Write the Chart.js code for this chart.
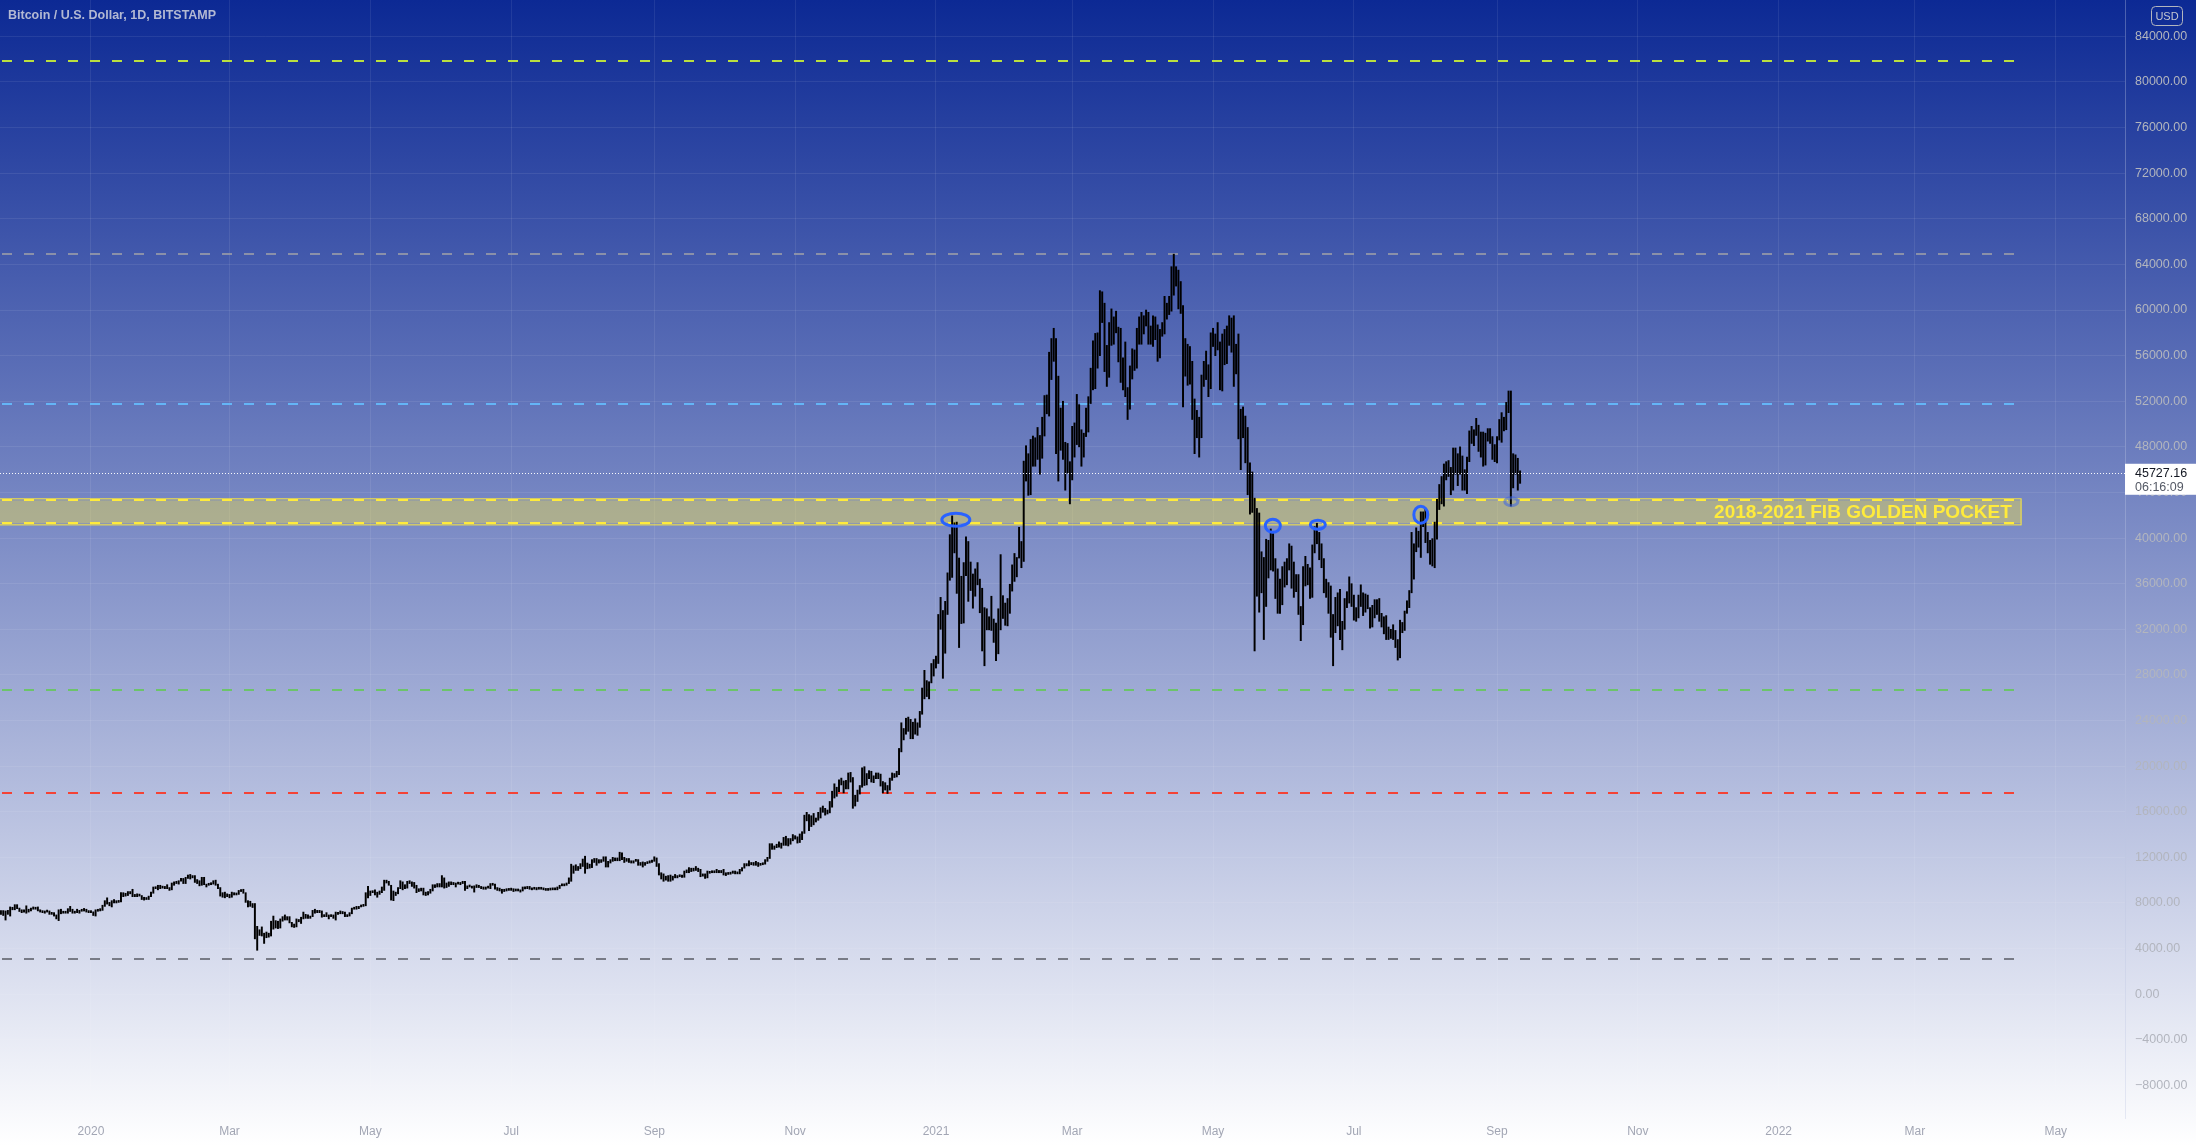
<!DOCTYPE html>
<html>
<head>
<meta charset="utf-8">
<title>Bitcoin / U.S. Dollar, 1D, BITSTAMP</title>
<script src="https://cdn.jsdelivr.net/npm/chart.js@4.4.1/dist/chart.umd.min.js"></script>
<style>
  html, body { margin: 0; padding: 0; overflow: hidden; }
  body { width: 2196px; height: 1146px; background: linear-gradient(180deg, #0c2994 0%, #ffffff 100%); }
  #wrap { position: relative; width: 2196px; height: 1146px; }
</style>
</head>
<body>
<div id="wrap"><canvas id="chart"></canvas></div>
<script>
// day index 0 = 2020-01-01, first bar = 2019-11-23
const firstDay = -39

// daily low / high, one line per month
const barLow = [
  7000,6900,6500,7000,6850,7400,7400,7500,
  7250,7150,7200,7100,7200,7300,7450,7450,7300,7200,7150,7100,7200,7000,7000,6850,6600,6450,7050,7100,7100,7100,7250,7100,7100,7150,7100,7270,7290,7200,7150,
  7150,6900,6850,7270,7300,7350,7700,7900,7750,7650,8000,8000,8050,8100,8550,8600,8650,8800,8550,8550,8550,8600,8300,8250,8300,8300,8550,8850,9250,9150,9250,
  9300,9250,9250,9100,9150,9550,9700,9650,9900,9700,9700,10150,10100,10200,9800,9700,9500,9550,9600,9400,9550,9600,9650,9550,9250,8600,8500,8450,8550,
  8450,8500,8700,8700,8750,9000,8850,8050,7650,7700,7600,4850,3850,5150,5100,4450,4950,5000,5100,5700,5800,5750,5800,6400,6500,6500,6250,5900,5850,5900,6350,
  6200,6600,6650,6650,6650,6800,7100,7150,7150,6750,6800,6800,6600,6800,6650,6500,7000,7050,7050,6800,6800,6850,7050,7450,7450,7500,7650,7700,7750,8450,
  8650,8900,8700,8500,8750,8900,9100,9750,9550,8250,8200,8650,8800,9250,9150,9250,9300,9700,9450,9300,8900,9000,9050,8700,8650,8700,8850,9050,9350,9400,9400,
  9400,9300,9350,9450,9600,9600,9400,9650,9600,9700,9100,9250,9400,9300,8950,9350,9350,9250,9200,9200,9300,9250,9550,9200,9100,9050,8850,9000,9050,9100,
  9100,9000,9050,9050,8950,9050,9230,9250,9200,9150,9200,9150,9200,9200,9150,9100,9100,9130,9150,9150,9150,9270,9500,9500,9550,9700,9900,10600,10850,10850,11000,
  11200,10600,11000,11050,11100,11550,11300,11500,11550,11650,11150,11150,11500,11650,11700,11700,11700,11800,11550,11650,11550,11500,11500,11650,11300,11300,11150,11300,11450,11500,11550,
  11650,11200,10450,10100,9900,10000,9900,9900,10000,10200,10200,10300,10250,10250,10650,10650,10750,10800,10850,10750,10300,10350,10150,10200,10600,10650,10650,10650,10650,10650,
  10450,10400,10500,10520,10600,10550,10550,10550,10800,11050,11250,11250,11350,11300,11300,11200,11300,11350,11400,11650,11900,12700,12700,12850,12900,12800,13050,13050,13000,13150,13450,
  13600,13250,13300,13550,14100,15200,14350,14700,14850,15100,15250,15450,15950,15700,15800,15900,16400,17200,17350,17750,18350,17650,18000,18000,18600,16300,16500,16900,17550,18150,
  18300,18350,18900,18600,18550,18900,18900,18250,17650,17900,17600,17900,18750,19000,19050,19250,21250,22300,22800,23050,22400,22400,22800,22700,23400,24550,25900,26100,25900,27300,27900,
  28600,29000,32000,27700,29900,33300,36300,36550,38700,35150,30400,32500,32550,36700,34450,35400,33850,34900,35900,33450,30100,28800,31950,31950,31900,30850,29250,29850,31950,32950,32350,
  32300,33400,35350,36200,36600,38250,37400,37950,45000,43750,43800,46300,46300,46900,45600,47000,48950,50900,50700,53900,55500,47400,45000,47700,46900,44200,45700,43000,
  45100,47100,48200,48000,46300,47100,48900,49300,51800,53000,53100,54900,56000,58900,54600,53300,54100,56900,57000,58000,55450,53650,53000,52400,50400,51300,53950,54700,54900,57000,57000,
  57900,58600,57000,57000,56800,57400,55500,55800,57700,57900,59200,59600,59900,61300,62100,60100,59700,51500,54200,53400,53500,50400,47400,48800,47100,48800,53300,53900,52400,53100,
  56800,56000,56500,53000,52900,55200,55300,56900,56300,53300,54400,48700,46000,48800,46600,43800,42100,42250,30100,34900,33500,35200,31100,34000,36500,37200,37100,34700,33400,33400,34150,
  35700,35900,37200,35600,34800,35300,33300,31000,32400,35800,35900,34700,34800,38700,39500,38100,37400,35200,34800,33400,31300,28800,31700,32300,31100,30200,32000,33900,34300,34000,
  32800,32700,33000,34000,33200,33500,33800,32100,32200,33000,33300,32700,32200,31600,31100,31100,31200,31100,30400,29300,29500,31700,31900,33400,33900,35200,36400,38800,39200,38300,41000,
  39600,38700,37700,37550,37400,39900,42500,43000,42800,45100,45400,43800,44200,45600,44600,45600,44200,44200,43900,46700,48300,48100,49000,47600,47100,46300,46400,48500,48300,46900,46700,
  46600,48600,48400,49400,49500,51000,42800,44400,45600,44200,44800
]
const barHigh = [
  7330,7330,7300,7350,7650,7620,7850,7850,
  7550,7400,7400,7750,7450,7550,7650,7600,7650,7400,7300,7300,7350,7300,7150,7150,6950,7400,7450,7250,7200,7500,7700,7450,7280,7450,7350,7400,7520,7450,7330,
  7250,7220,7400,7400,7500,7800,8200,8450,8050,8200,8300,8200,8200,8900,8900,8850,9000,9000,9200,8750,8800,8750,8650,8500,8400,8600,8950,9400,9400,9550,9550,
  9450,9450,9600,9350,9750,9850,9900,9950,10150,10150,10250,10450,10500,10400,10400,10050,9950,10250,10250,9650,9700,9700,9950,10000,9650,9350,8900,8950,8800,
  8750,8950,8900,8850,9100,9150,9200,8900,8200,8150,7950,7950,5950,5650,5900,5350,5450,5350,6400,6850,6450,6400,6600,6800,6950,6800,6800,6300,6150,6600,6550,
  6750,7200,7000,6950,6850,7350,7450,7350,7350,7300,6950,7150,6950,6950,6950,7200,7150,7300,7250,7200,6950,7150,7550,7600,7700,7700,7800,7800,8900,9450,
  9050,9000,9150,8950,9050,9400,10000,10000,9900,9550,9050,8950,9350,9950,9850,9600,9900,9950,9850,9800,9550,9250,9300,9300,8950,9000,9200,9600,9600,9700,9700,
  10400,10200,9750,9850,9850,9800,9750,9800,9800,9900,9900,9500,9500,9450,9500,9600,9550,9450,9400,9400,9400,9700,9700,9650,9350,9300,9200,9200,9250,9200,
  9300,9250,9150,9200,9150,9400,9380,9450,9450,9300,9300,9350,9350,9300,9250,9250,9200,9200,9250,9200,9400,9550,9650,9650,9750,10200,11400,11250,11350,11200,11450,
  11850,12100,11500,11400,11800,11900,11900,11800,11800,12050,12050,11650,11800,12000,11950,11950,12450,12400,12000,11900,11900,11700,11700,11800,11800,11550,11600,11550,11600,11700,11750,
  12050,11950,11450,10650,10550,10350,10400,10450,10350,10500,10400,10450,10450,10800,10900,11100,11050,11050,11200,11050,10950,10550,10550,10800,10750,10800,10800,10950,10850,10850,
  10950,10650,10600,10700,10800,10800,10650,10950,11100,11450,11450,11700,11550,11550,11650,11550,11400,11500,11800,12000,13200,13200,13000,13150,13350,13250,13750,13850,13650,13650,14000,
  13900,13800,14050,14250,15700,15950,15750,15650,15850,15450,15950,16350,16500,16300,16150,16900,17800,18450,18150,18800,18950,18700,18750,19400,19450,19000,17450,17900,18300,19850,
  19950,19350,19600,19550,19150,19400,19400,19300,18650,18550,18300,18950,19400,19350,19550,21550,23800,23300,24200,24300,24100,23850,24150,23800,24800,26850,28400,27500,27400,29000,29350,
  29650,33300,34800,33650,34450,36950,40300,41950,41350,41400,38250,36650,37850,40100,39700,37900,36850,37300,37850,36400,35600,33900,33800,33100,34900,32900,32550,33800,38550,34950,34300,
  34700,35950,37650,38650,38300,40950,39700,46750,48100,47400,48650,48950,48800,49700,49000,50600,52500,52550,56300,57500,58400,57500,54200,51400,52000,48400,48300,46700,
  49800,50100,52600,51700,49500,49200,51400,52400,54900,57300,57950,58000,61700,61600,60600,56900,58900,60100,59400,59900,58500,58400,55800,57200,53200,55100,56600,56500,58400,59400,59800,
  59500,60000,59800,58600,59500,59400,58700,58300,58900,61200,60600,61200,63800,64900,63800,63500,62500,60400,57500,57000,56800,55500,52200,51200,50600,54300,55500,56400,55200,58000,
  58400,57900,58900,57200,57900,58300,58600,59500,59300,59500,57000,57900,51300,51500,50700,49700,46600,45800,43500,42600,42200,38800,38300,39900,39800,40800,40400,38200,37300,36400,37500,
  37900,38200,39500,39300,37900,36800,36800,34000,37500,38400,37700,37400,39400,41000,41300,40500,39500,38200,36400,36100,35800,33300,34800,35200,35500,32700,34700,35300,36600,36000,
  35000,33900,35000,35900,35200,35100,35000,33900,34100,34600,34600,34700,33400,33100,33200,32200,32000,32400,31900,31100,32800,32600,33600,34500,35400,40500,39500,40900,40600,42300,42300,
  42600,40500,39800,39950,41400,43400,44700,45400,46500,46700,46800,46200,47900,47900,47400,48000,47200,46000,47100,49400,49800,49500,50500,49900,49300,49300,49200,49600,49600,48900,48200,
  48900,50400,51000,50600,51900,52900,52900,47400,47300,47000,45900
]

// time axis labels (day index of each month start)
const monthTickDays = [0, 60, 121, 182, 244, 305, 366, 425, 486, 547, 609, 670, 731, 790, 851]
const monthTickLabels = ['2020', 'Mar', 'May', 'Jul', 'Sep', 'Nov', '2021', 'Mar', 'May', 'Jul', 'Sep', 'Nov', '2022', 'Mar', 'May']
const priceTicks = [-8000, -4000, 0, 4000, 8000, 12000, 16000, 20000, 24000, 28000, 32000, 36000, 40000, 44000,
  48000, 52000, 56000, 60000, 64000, 68000, 72000, 76000, 80000, 84000]

// drawn horizontal levels
const levelValues = [81800, 64950, 51730, 26700, 17600, 3100]
const levelColors = ['#b9df3f', 'rgba(150,154,168,0.85)', '#64b5f6', '#6cc46a', '#f44336', '#787b86']
const pocketTop = 43310
const pocketBottom = 41290
const pocketLabel = '2018-2021 FIB GOLDEN POCKET'
const levelEndDay = 833
const pocketEndDay = 836

// hand drawn marks (day, price)
const markDays = [374.6, 511.9, 531.4, 576, 615.2]
const markPrices = [41614, 41088, 41175, 42053, 43193]

const lastPrice = 45727.16
const lastCountdown = '06:16:09'
const title = 'Bitcoin / U.S. Dollar, 1D, BITSTAMP'

const FONT = "'Liberation Sans', Arial, sans-serif"
Chart.defaults.font.family = FONT

const bars = barLow.map((lo, i) => ({ x: firstDay + i, y: [lo, barHigh[i]] }))

const fmt = v => (v < 0 ? '\u2212' + Math.abs(v).toFixed(2) : v.toFixed(2))

const noPad = s => { s.paddingTop = 0; s.paddingBottom = 0; s.paddingLeft = 0; s.paddingRight = 0 }

const overlay = {
  id: 'overlay',
  beforeDatasetsDraw(chart) {
    const { ctx: c, scales: { x, y }, chartArea: a } = chart
    c.save()
    // golden pocket box
    const xr = x.getPixelForValue(pocketEndDay)
    const yt = y.getPixelForValue(pocketTop), yb = y.getPixelForValue(pocketBottom)
    c.fillStyle = 'rgba(255,235,59,0.38)'
    c.fillRect(a.left - 2, yt, xr - a.left + 2, yb - yt)
    c.strokeStyle = '#ffeb3b'
    c.lineWidth = 1
    c.strokeRect(a.left - 2, yt - 1.5, xr - a.left + 2, yb - yt + 3)

    const xe = x.getPixelForValue(levelEndDay)
    c.lineWidth = 2
    c.setLineDash([10, 12])
    const dashLine = (v, col) => {
      const py = Math.round(y.getPixelForValue(v))
      c.strokeStyle = col
      c.beginPath(); c.moveTo(a.left + 2, py); c.lineTo(xe, py); c.stroke()
    }
    levelValues.forEach((v, i) => dashLine(v, levelColors[i]))
    dashLine(pocketTop, '#ffeb3b')
    dashLine(pocketBottom, '#ffeb3b')
    c.restore()
  },
  afterDatasetsDraw(chart) {
    const { ctx: c, scales: { x, y }, chartArea: a } = chart
    c.save()
    // last price dotted line
    const py = Math.round(y.getPixelForValue(lastPrice)) + 0.5
    c.strokeStyle = 'rgba(255,255,255,0.95)'
    c.lineWidth = 1
    c.setLineDash([1, 2])
    c.beginPath(); c.moveTo(a.left, py); c.lineTo(a.right, py); c.stroke()
    c.setLineDash([])

    // label in the pocket
    c.font = 'bold 19px ' + FONT
    c.fillStyle = '#ffeb3b'
    c.textAlign = 'right'
    c.textBaseline = 'middle'
    c.fillText(pocketLabel, x.getPixelForValue(832), y.getPixelForValue((pocketTop + pocketBottom) / 2) + 1)

    // blue marks
    const rx = [14, 7.5, 7.5, 7, 6.5], ry = [6.5, 6.5, 4.5, 8.5, 4]
    markDays.forEach((d, i) => {
      c.strokeStyle = i === 4 ? 'rgba(60,100,230,0.55)' : '#2962ff'
      c.lineWidth = 3
      c.beginPath()
      c.ellipse(x.getPixelForValue(d), y.getPixelForValue(markPrices[i]), rx[i], ry[i], 0, 0, Math.PI * 2)
      c.stroke()
    })
    c.restore()
  },
  afterDraw(chart) {
    const { ctx: c, scales: { y }, chartArea: a } = chart
    c.save()
    // title
    c.font = 'bold 12.5px ' + FONT
    c.fillStyle = '#b3b9d3'
    c.textAlign = 'left'
    c.textBaseline = 'middle'
    c.fillText(title, 8, 16)

    // USD badge
    c.strokeStyle = '#b2b5be'
    c.lineWidth = 1
    c.beginPath()
    c.roundRect(2151.5, 6.5, 31, 19, 4)
    c.stroke()
    c.font = '11px ' + FONT
    c.fillStyle = '#c3c6d0'
    c.textAlign = 'center'
    c.fillText('USD', 2167, 16.5)

    // last price tag
    const py = y.getPixelForValue(lastPrice)
    c.fillStyle = '#ffffff'
    c.fillRect(a.right, py - 9, chart.width - a.right, 31)
    c.textAlign = 'left'
    c.font = '12.5px ' + FONT
    c.fillStyle = '#131722'
    c.fillText(fmt(lastPrice), a.right + 10, py + 0.5)
    c.fillStyle = '#555a66'
    c.fillText(lastCountdown, a.right + 10, py + 14.5)
    c.restore()
  }
}

new Chart(document.getElementById('chart'), {
  type: 'bar',
  data: {
    datasets: [{
      data: bars,
      backgroundColor: '#000000',
      borderWidth: 0,
      barThickness: 1.3,
      grouped: false,
      minBarLength: 2
    }]
  },
  options: {
    responsive: true,
    maintainAspectRatio: false,
    animation: false,
    devicePixelRatio: 1,
    layout: { padding: 0 },
    plugins: { legend: { display: false }, tooltip: { enabled: false } },
    scales: {
      x: {
        type: 'linear',
        min: -39.4,
        max: 881,
        offset: false,
        grid: { color: 'rgba(255,255,255,0.08)', drawTicks: false, offset: false },
        border: { display: false },
        afterBuildTicks: s => { s.ticks = monthTickDays.map(v => ({ value: v })) },
        afterFit: s => { s.height = 28; noPad(s) },
        ticks: {
          color: '#a2a6b4',
          font: { size: 12 },
          padding: 6,
          maxRotation: 0,
          autoSkip: false,
          callback: v => monthTickLabels[monthTickDays.indexOf(v)]
        }
      },
      y: {
        position: 'right',
        min: -10860,
        max: 87190,
        grid: { color: 'rgba(255,255,255,0.08)', drawTicks: false },
        border: { display: true, color: 'rgba(190,198,225,0.35)' },
        afterBuildTicks: s => { s.ticks = priceTicks.map(v => ({ value: v })) },
        afterFit: s => { s.width = 71; noPad(s) },
        ticks: {
          color: '#b2b5be',
          font: { size: 12.5 },
          padding: 10,
          callback: v => fmt(v)
        }
      }
    }
  },
  plugins: [overlay]
})
</script>
</body>
</html>
